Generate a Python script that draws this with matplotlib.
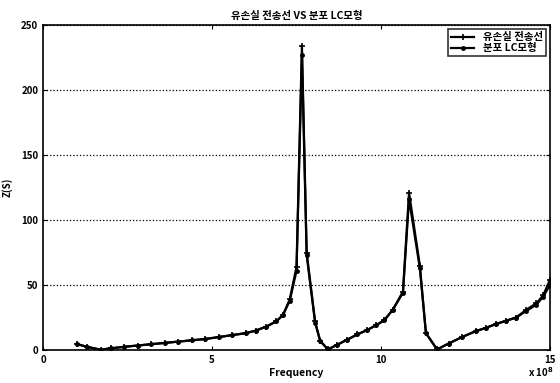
import numpy as np
import matplotlib.pyplot as plt

plt.rcParams['font.family'] = ['Noto Sans CJK KR', 'DejaVu Sans']
plt.rcParams['font.weight'] = 'bold'

# frequency axis (x 10^8)
freq = [1.0, 1.3, 1.7, 2.0, 2.4, 2.8, 3.2, 3.6, 4.0, 4.4, 4.8, 5.2, 5.6, 6.0,
        6.3, 6.6, 6.9, 7.1, 7.3, 7.5, 7.66, 7.8, 8.05, 8.2, 8.43, 8.7, 9.0,
        9.3, 9.6, 9.85, 10.1, 10.35, 10.65, 10.83, 11.15, 11.33, 11.66, 12.0,
        12.4, 12.8, 13.1, 13.4, 13.7, 14.0, 14.3, 14.6, 14.8, 15.0]

# lossy transmission line
z_line = [4.6, 2.5, 0.3, 1.3, 2.5, 3.5, 4.5, 5.5, 6.5, 7.5, 8.5, 10, 11.5, 13,
          15, 18, 22, 27, 39, 64, 234, 75, 22, 7, 0.5, 4, 8,
          12, 15.5, 19, 23, 31, 45, 121, 65, 13, 0.5, 5,
          10, 14.5, 17, 20, 22.5, 25, 31, 36, 42, 54]

# distributed LC model
z_lc = [4.6, 2.5, 0.3, 1.3, 2.5, 3.5, 4.5, 5.5, 6.5, 7.5, 8.5, 10, 11.5, 13,
        15, 18, 22, 27, 38, 61, 227, 73, 21, 7, 0.5, 4, 8,
        12, 15.5, 19, 23, 31, 44, 116, 63, 13, 0.5, 5,
        10, 14.5, 17, 20, 22.5, 25, 30, 35, 41, 50]

fig = plt.figure(figsize=(5.6, 3.83), dpi=100)
ax = fig.add_axes([0.077, 0.086, 0.905, 0.849])

ax.plot(freq, z_line, color='black', lw=1.6, marker='+', ms=5, mew=1.2,
        label='유손실 전송선')
ax.plot(freq, z_lc, color='black', lw=1.6, marker='.', ms=5,
        label='분포 LC모형')

ax.set_xlim(0, 15)
ax.set_ylim(0, 250)
ax.set_xticks([0, 5, 10, 15])
ax.set_yticks([0, 50, 100, 150, 200, 250])
ax.yaxis.grid(True, linestyle=':', color='black', lw=0.9)
ax.tick_params(direction='in', top=True, right=True, labelsize=7, length=3)
for lab in ax.get_xticklabels() + ax.get_yticklabels():
    lab.set_fontweight('bold')
for s in ax.spines.values():
    s.set_linewidth(1.2)

ax.set_title('유손실 전송선 VS 분포 LC모형', fontsize=7.5, fontweight='bold', pad=4)
ax.set_xlabel('Frequency', fontsize=7.5, fontweight='bold', labelpad=2)
ax.set_ylabel('Z(S)', fontsize=7, fontweight='bold', labelpad=6)
fig.text(0.965, 0.015, r'x 10$^{8}$', fontsize=7, fontweight='bold', ha='center')

leg = ax.legend(loc='upper right', fontsize=7.5, frameon=True, fancybox=False,
                edgecolor='black', borderpad=0.3, handlelength=2.2,
                labelspacing=0.1, borderaxespad=0.4)
leg.get_frame().set_linewidth(1.2)
for t in leg.get_texts():
    t.set_fontweight('bold')

fig.savefig('out.png', dpi=100)
